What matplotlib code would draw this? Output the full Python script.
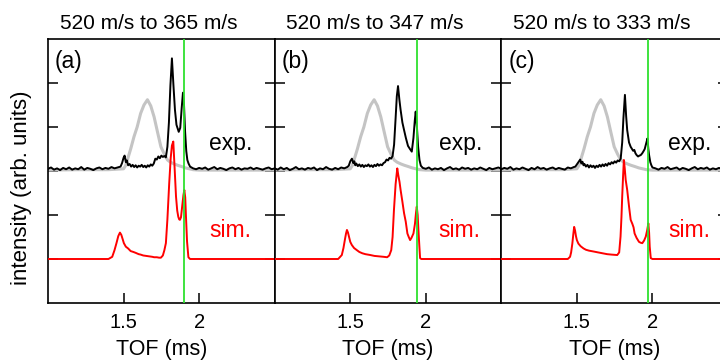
import matplotlib
matplotlib.use("Agg")
import matplotlib.pyplot as plt

plt.rcParams['font.family'] = ['Liberation Sans', 'DejaVu Sans']

# panel titles / labels
titles = ["520 m/s to 365 m/s", "520 m/s to 347 m/s", "520 m/s to 333 m/s"]
panel_tags = ["(a)", "(b)", "(c)"]
cutoff_tof = [1.902, 1.944, 1.973]  # green marker (ms)

# initial beam (grey), same in every panel
gray_tof = [1.00, 1.20, 1.40, 1.50, 1.513, 1.525, 1.547, 1.569, 1.59, 1.613, 1.635,
            1.658, 1.68, 1.702, 1.725, 1.747, 1.77, 1.791, 1.81, 1.835, 1.858, 1.885,
            1.91, 1.935, 1.96, 2.00, 2.50]
gray_int = [3.02, 3.03, 3.03, 3.05, 3.12, 3.25, 3.50, 3.78, 4.00, 4.31, 4.50,
            4.62, 4.48, 4.23, 3.88, 3.55, 3.38, 3.25, 3.20, 3.16, 3.13, 3.10,
            3.07, 3.05, 3.03, 3.02, 3.02]

# measured TOF traces
exp_a_tof = [1.00, 1.02, 1.04, 1.06, 1.08, 1.10, 1.12, 1.14, 1.16, 1.18, 1.20, 1.22,
             1.24, 1.26, 1.28, 1.30, 1.32, 1.34, 1.36, 1.38, 1.40, 1.42, 1.44, 1.46,
             1.48, 1.49, 1.50, 1.507, 1.515, 1.522, 1.53, 1.54, 1.55, 1.56, 1.57, 1.58,
             1.59, 1.60, 1.61, 1.62, 1.63, 1.64, 1.65, 1.66, 1.67, 1.68, 1.69, 1.70,
             1.71, 1.72, 1.73, 1.74, 1.75, 1.76, 1.77, 1.78, 1.79, 1.80, 1.81, 1.82,
             1.83, 1.84, 1.85, 1.865, 1.875, 1.885, 1.893, 1.90, 1.907, 1.915, 1.922,
             1.93, 1.94, 1.95, 1.96, 1.98, 2.00, 2.02, 2.04, 2.06, 2.08, 2.10, 2.12,
             2.14, 2.16, 2.18, 2.20, 2.22, 2.24, 2.26, 2.28, 2.30, 2.32, 2.34, 2.36,
             2.38, 2.40, 2.42, 2.44, 2.46, 2.48, 2.50]
exp_a_int = [3.05, 3.08, 3.03, 3.06, 3.02, 3.07, 3.04, 3.08, 3.03, 3.06, 3.04, 3.09,
             3.03, 3.07, 3.05, 3.02, 3.06, 3.08, 3.04, 3.07, 3.05, 3.09, 3.06, 3.08,
             3.10, 3.18, 3.30, 3.35, 3.20, 3.24, 3.13, 3.16, 3.10, 3.14, 3.09, 3.13,
             3.08, 3.12, 3.10, 3.14, 3.09, 3.12, 3.08, 3.13, 3.10, 3.15, 3.12, 3.17,
             3.28, 3.26, 3.33, 3.29, 3.35, 3.32, 3.34, 3.31, 3.55, 4.10, 4.95, 5.56,
             4.95, 4.39, 4.05, 3.89, 3.98, 4.45, 4.78, 4.50, 3.90, 3.45, 3.25,
             3.17, 3.10, 3.08, 3.06, 3.04, 3.07, 3.05, 3.08, 3.03, 3.06, 3.09, 3.04,
             3.07, 3.05, 3.02, 3.06, 3.08, 3.04, 3.07, 3.03, 3.06, 3.05, 3.08, 3.04,
             3.07, 3.05, 3.03, 3.06, 3.08, 3.04, 3.06]

exp_b_tof = [1.00, 1.02, 1.04, 1.06, 1.08, 1.10, 1.12, 1.14, 1.16, 1.18, 1.20, 1.22,
             1.24, 1.26, 1.28, 1.30, 1.32, 1.34, 1.36, 1.38, 1.40, 1.42, 1.44, 1.46,
             1.48, 1.49, 1.50, 1.511, 1.52, 1.527, 1.533, 1.54, 1.55, 1.56, 1.57, 1.58,
             1.59, 1.60, 1.61, 1.62, 1.63, 1.64, 1.65, 1.66, 1.67, 1.68, 1.69, 1.70,
             1.71, 1.72, 1.73, 1.74, 1.75, 1.76, 1.77, 1.78, 1.79, 1.80, 1.808, 1.816,
             1.825, 1.833, 1.845, 1.856, 1.868, 1.882, 1.895, 1.907, 1.918, 1.927,
             1.933, 1.941, 1.949, 1.958, 1.967, 1.98, 2.00, 2.02, 2.04, 2.06, 2.08,
             2.10, 2.12, 2.14, 2.16, 2.18, 2.20, 2.22, 2.24, 2.26, 2.28, 2.30, 2.32,
             2.34, 2.36, 2.38, 2.40, 2.42, 2.44, 2.46, 2.48, 2.50]
exp_b_int = [3.06, 3.03, 3.08, 3.04, 3.07, 3.02, 3.05, 3.09, 3.04, 3.06, 3.03, 3.07,
             3.05, 3.08, 3.02, 3.06, 3.04, 3.09, 3.05, 3.03, 3.07, 3.04, 3.08, 3.06,
             3.09, 3.12, 3.22, 3.28, 3.18, 3.22, 3.13, 3.17, 3.11, 3.15, 3.10, 3.14,
             3.09, 3.13, 3.11, 3.15, 3.10, 3.13, 3.09, 3.14, 3.11, 3.16, 3.12, 3.15,
             3.13, 3.18, 3.20, 3.26, 3.24, 3.30, 3.28, 3.34, 3.60, 4.20, 4.70, 4.93,
             4.62, 4.39, 4.10, 3.93, 3.75, 3.57, 3.50, 3.44, 3.75, 4.15,
             4.35, 4.00, 3.55, 3.25, 3.12, 3.07, 3.05, 3.08, 3.03, 3.06, 3.04,
             3.07, 3.02, 3.06, 3.09, 3.04, 3.06, 3.03, 3.08, 3.05, 3.07, 3.03, 3.06,
             3.04, 3.08, 3.05, 3.02, 3.07, 3.04, 3.06, 3.08, 3.05]

exp_c_tof = [1.00, 1.02, 1.04, 1.06, 1.08, 1.10, 1.12, 1.14, 1.16, 1.18, 1.20, 1.22,
             1.24, 1.26, 1.28, 1.30, 1.32, 1.34, 1.36, 1.38, 1.40, 1.42, 1.44, 1.46,
             1.48, 1.49, 1.50, 1.51, 1.522, 1.53, 1.537, 1.544, 1.55, 1.56, 1.57, 1.58,
             1.59, 1.60, 1.61, 1.62, 1.63, 1.64, 1.65, 1.66, 1.67, 1.68, 1.69, 1.70,
             1.71, 1.72, 1.73, 1.74, 1.75, 1.76, 1.77, 1.78, 1.79, 1.80, 1.808, 1.818,
             1.826, 1.833, 1.845, 1.856, 1.865, 1.872, 1.880, 1.888, 1.896, 1.905,
             1.914, 1.922, 1.932, 1.941, 1.949, 1.958, 1.967, 1.973, 1.978, 1.986,
             1.993, 2.00, 2.02, 2.04, 2.06, 2.08, 2.10, 2.12, 2.14, 2.16, 2.18, 2.20,
             2.22, 2.24, 2.26, 2.28, 2.30, 2.32, 2.34, 2.36, 2.38, 2.40, 2.42, 2.44,
             2.46, 2.48, 2.50]
exp_c_int = [3.04, 3.07, 3.05, 3.09, 3.03, 3.06, 3.04, 3.08, 3.05, 3.02, 3.07, 3.04,
             3.09, 3.05, 3.07, 3.03, 3.06, 3.08, 3.04, 3.07, 3.05, 3.03, 3.08, 3.06,
             3.09, 3.10, 3.15, 3.20, 3.26, 3.17, 3.21, 3.13, 3.16, 3.10, 3.14, 3.08,
             3.13, 3.09, 3.12, 3.07, 3.12, 3.09, 3.14, 3.10, 3.15, 3.11, 3.16, 3.12,
             3.18, 3.15, 3.20, 3.17, 3.22, 3.19, 3.24, 3.22, 3.28, 3.65, 4.20, 4.73,
             4.25, 3.93, 3.65, 3.55, 3.50, 3.46, 3.48, 3.40, 3.36, 3.33,
             3.35, 3.36, 3.40, 3.45, 3.50, 3.62, 3.74, 3.50, 3.36, 3.20,
             3.13, 3.08, 3.06, 3.03, 3.07, 3.05, 3.09, 3.04, 3.06, 3.08, 3.03, 3.07,
             3.05, 3.02, 3.06, 3.09, 3.04, 3.07, 3.05, 3.08, 3.03, 3.06, 3.04, 3.07,
             3.05, 3.08, 3.06]

# simulated TOF traces
sim_a_tof = [1.00, 1.40, 1.425, 1.44, 1.453, 1.465, 1.476, 1.485, 1.495, 1.502, 1.515,
             1.53, 1.547, 1.565, 1.58, 1.60, 1.613, 1.63, 1.65, 1.67, 1.69, 1.702,
             1.72, 1.735, 1.747, 1.76, 1.77, 1.78, 1.79, 1.802, 1.812, 1.82, 1.829,
             1.838, 1.847, 1.855, 1.862, 1.868, 1.873, 1.880, 1.888, 1.896, 1.902,
             1.908, 1.913, 1.920, 1.929, 1.94, 2.50]
sim_a_int = [1.00, 1.00, 1.05, 1.20, 1.36, 1.52, 1.60, 1.55, 1.44, 1.36, 1.28,
             1.24, 1.18, 1.16, 1.14, 1.11, 1.10, 1.08, 1.07, 1.06, 1.05, 1.04,
             1.04, 1.03, 1.03, 1.08, 1.20, 1.36, 1.90, 2.72, 3.30, 3.58, 3.67,
             3.05, 2.42, 2.10, 1.96, 1.90, 1.89, 1.95, 2.20, 2.45, 2.57,
             2.40, 1.96, 1.40, 1.04, 1.00, 1.00]

sim_b_tof = [1.00, 1.42, 1.444, 1.455, 1.465, 1.472, 1.478, 1.485, 1.492, 1.50, 1.51,
             1.525, 1.544, 1.56, 1.58, 1.60, 1.633, 1.66, 1.69, 1.72, 1.744, 1.758,
             1.771, 1.78, 1.789, 1.80, 1.811, 1.818, 1.826, 1.833, 1.845, 1.856,
             1.867, 1.878, 1.887, 1.896, 1.905, 1.918, 1.928, 1.935, 1.94, 1.946,
             1.951, 1.957, 1.962, 1.97, 2.50]
sim_b_int = [1.00, 1.00, 1.09, 1.25, 1.45, 1.58, 1.66, 1.60, 1.50, 1.39, 1.32,
             1.25, 1.20, 1.16, 1.13, 1.11, 1.09, 1.07, 1.06, 1.05, 1.04, 1.08,
             1.20, 1.50, 2.11, 2.70, 3.06, 2.90, 2.75, 2.57, 2.30, 2.04,
             1.85, 1.58, 1.50, 1.43, 1.48, 1.58, 1.80, 2.05, 2.19, 2.00,
             1.66, 1.30, 1.02, 1.00, 1.00]

sim_c_tof = [1.00, 1.44, 1.455, 1.462, 1.47, 1.476, 1.482, 1.488, 1.494, 1.50, 1.51,
             1.525, 1.544, 1.56, 1.58, 1.611, 1.64, 1.67, 1.70, 1.73, 1.767, 1.78,
             1.789, 1.795, 1.80, 1.806, 1.811, 1.817, 1.823, 1.833, 1.845, 1.856,
             1.867, 1.875, 1.882, 1.895, 1.911, 1.922, 1.933, 1.945, 1.956, 1.965,
             1.973, 1.978, 1.982, 1.989, 2.00, 2.50]
sim_c_int = [1.00, 1.00, 1.05, 1.15, 1.35, 1.55, 1.73, 1.65, 1.52, 1.43, 1.35,
             1.29, 1.24, 1.21, 1.19, 1.17, 1.15, 1.13, 1.11, 1.10, 1.09, 1.15,
             1.51, 1.95, 2.42, 2.90, 3.25, 3.05, 2.80, 2.57, 2.20, 1.89,
             1.80, 1.72, 1.58, 1.48, 1.39, 1.37, 1.36, 1.42, 1.51, 1.65,
             1.81, 1.60, 1.28, 1.02, 1.00, 1.00]

exp_traces = [(exp_a_tof, exp_a_int), (exp_b_tof, exp_b_int), (exp_c_tof, exp_c_int)]
sim_traces = [(sim_a_tof, sim_a_int), (sim_b_tof, sim_b_int), (sim_c_tof, sim_c_int)]
label_x = [2.065, 2.085, 2.105]

fig = plt.figure(figsize=(7.2, 3.62), dpi=100)
W, H = 720.0, 362.0
lefts = [48, 274.7, 501.3]
pw = 226.7
bottom_px, top_px = 303, 39

for i in range(3):
    ax = fig.add_axes([lefts[i] / W, 1 - bottom_px / H, pw / W, (bottom_px - top_px) / H])
    ax.plot(gray_tof, gray_int, color='#c4c4c4', lw=2.2, zorder=2)
    ax.plot(*exp_traces[i], color='black', lw=1.4, zorder=3)
    ax.plot(*sim_traces[i], color='red', lw=1.4, zorder=4)
    ax.axvline(cutoff_tof[i], color='#2fe02f', lw=1.3, zorder=5)

    ax.set_xlim(1.0, 2.5)
    ax.set_ylim(0, 6)
    ax.set_xticks([1.5, 2.0])
    ax.set_xticklabels(['1.5', '2'])
    ax.set_yticks([1, 2, 3, 4, 5])
    ax.set_yticklabels([])
    ax.tick_params(axis='both', direction='in', length=7, width=1.1, labelsize=14.5, pad=7)
    ax.tick_params(axis='y', left=True, right=True)
    for s in ax.spines.values():
        s.set_linewidth(1.2)

    # titles sit a little left of the panel centre
    ttl = ax.set_title(titles[i], fontsize=15, pad=7)
    ttl.set_x(0.5 - 13 / pw)
    ax.set_xlabel('TOF (ms)', fontsize=15.5, labelpad=5)
    ax.text(0.031, 0.96, panel_tags[i], transform=ax.transAxes, fontsize=16.5,
            ha='left', va='top')
    ax.text(label_x[i], 3.48, 'exp.', color='black', fontsize=16.5)
    ax.text(label_x[i], 1.50, 'sim.', color='red', fontsize=16.5)

fig.text(22 / W, 1 - 188 / H, 'intensity (arb. units)', rotation=90,
         ha='center', va='center', fontsize=16)

fig.savefig('out.png', dpi=100)
